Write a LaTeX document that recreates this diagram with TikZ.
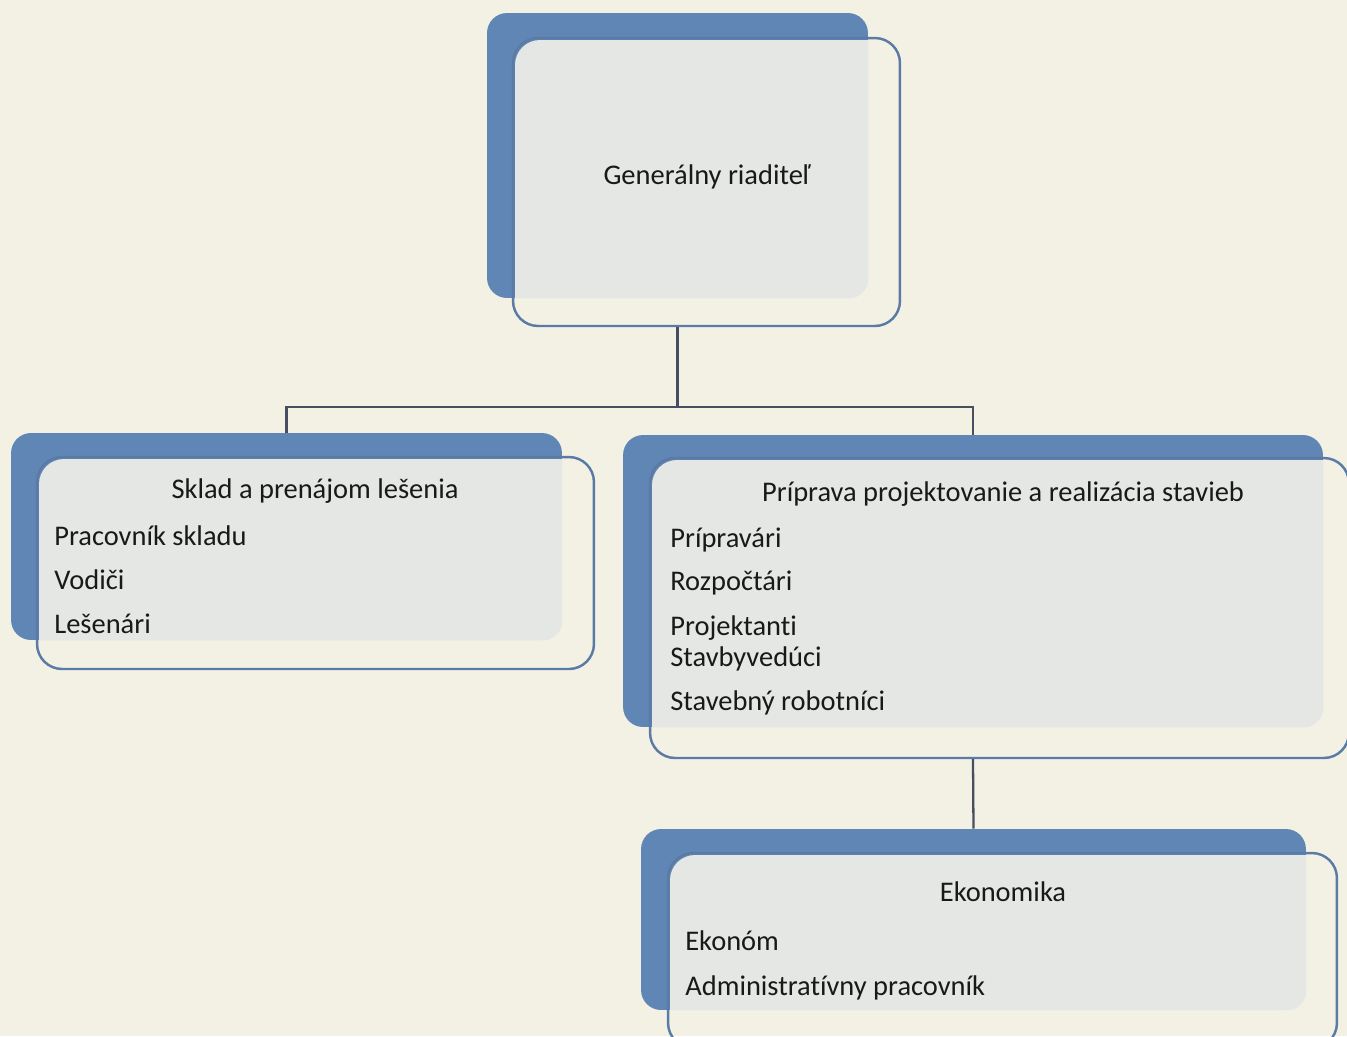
\documentclass[tikz,border=0pt]{standalone}
\usepackage{fontspec}
\setmainfont{Carlito}[Ligatures=NoCommon]
\usepackage{xcolor}
\usetikzlibrary{positioning}
\definecolor{paper}{RGB}{242,241,228}
\definecolor{boxblue}{RGB}{95,134,181}
\definecolor{rimblue}{RGB}{92,122,166}
\definecolor{tint}{RGB}{229,231,228}
\definecolor{ink}{RGB}{25,25,25}
\definecolor{wire}{RGB}{70,78,96}

\begin{document}
\begin{tikzpicture}[x=0.02cm,y=-0.02cm]%1 unit = 1 px
      \tikzstyle{back} = [rounded corners=0.4cm, fill=boxblue, inner sep=0pt]
      \tikzstyle{front} = [rounded corners=0.5cm, draw=rimblue, line width=1.4pt,
      inner sep=0pt] \tikzstyle{title} = [text=ink, font=\fontsize{16.2}{19}\selectfont]
      \tikzstyle{item} = [title, anchor=west, inner sep=0pt]
      \tikzstyle{wire} = [draw=wire, line width=1.3pt]
      \fill[paper] (0,0) rectangle (1347,1036);
      \useasboundingbox (0,0) rectangle (1347,1036);
      \clip (0,0) rectangle (1347,1036);
      % BACK
      \node[back, minimum width=7.62cm, minimum height=5.70cm] (genback) at (677.5,155.5) {};
      \node[back, minimum width=11.02cm, minimum height=4.14cm] (skladback) at (286.5,536.5) {};
      \node[back, minimum width=14.00cm, minimum height=5.84cm] (priback) at (973,581) {};
      \node[back, minimum width=13.30cm, minimum height=3.62cm] (ekoback) at (973.5,919.5) {};
      % TINT (front over back)
      \begin{scope}
        \clip[rounded corners=0.4cm] (genback.north west) rectangle (genback.south east);
        \fill[tint, rounded corners=0.5cm] (515,40) rectangle (900,326);
      \end{scope}
      \begin{scope}
        \clip[rounded corners=0.4cm] (skladback.north west) rectangle (skladback.south east);
        \fill[tint, rounded corners=0.5cm] (39,459) rectangle (594,669);
      \end{scope}
      \begin{scope}
        \clip[rounded corners=0.4cm] (priback.north west) rectangle (priback.south east);
        \fill[tint, rounded corners=0.5cm] (652,460) rectangle (1349,758);
      \end{scope}
      \begin{scope}
        \clip[rounded corners=0.4cm] (ekoback.north west) rectangle (ekoback.south east);
        \fill[tint, rounded corners=0.5cm] (670,855) rectangle (1337,1048);
      \end{scope}
      % FRONT
      \node[front, minimum width=7.74cm, minimum height=5.76cm] (genfront) at (706.5,182) {};
      \node[front, minimum width=11.14cm, minimum height=4.24cm] (skladfront) at (315.5,563) {};
      \node[front, minimum width=13.98cm, minimum height=6.00cm] (prifront) at (999.5,608) {};
      \node[front, minimum width=13.38cm, minimum height=3.90cm] (ekofront) at (1002.5,950.5) {};
      % TEXT
      \node[title] (gen) at (707,177) {Generálny riaditeľ};
      \node[title] (sklad) at (315,491) {Sklad a prenájom lešenia};
      \node[item] (s1) at (54,536) {Pracovník skladu};
      \node[item] (s2) at (54,580) {Vodiči};
      \node[item] (s3) at (54,624) {Lešenári};
      \node[title] (pri) at (1003,494) {Príprava projektovanie a realizácia stavieb};
      \node[item] (p1) at (670,540) {Prípravári};
      \node[item] (p2) at (670,583) {Rozpočtári};
      \node[item] (p3) at (670,628) {Projektanti};
      \node[item] (p4) at (670,659) {Stavbyvedúci};
      \node[item] (p5) at (670,703) {Stavebný robotníci};
      \node[title] (eko) at (1003,892) {Ekonomika};
      \node[item] (e1) at (685,941) {Ekonóm};
      \node[item] (e2) at (685,988) {Administratívny pracovník};
      % LINES
      \coordinate (fork) at (677.5,407);
      \draw[wire] (genback |- genfront.south) -- (fork) -| (skladback.north);
      \draw[wire] (fork) -| (priback.north);
      \draw[wire] (priback |- prifront.south) -- (ekoback.north);
    \end{tikzpicture}
\end{document}
